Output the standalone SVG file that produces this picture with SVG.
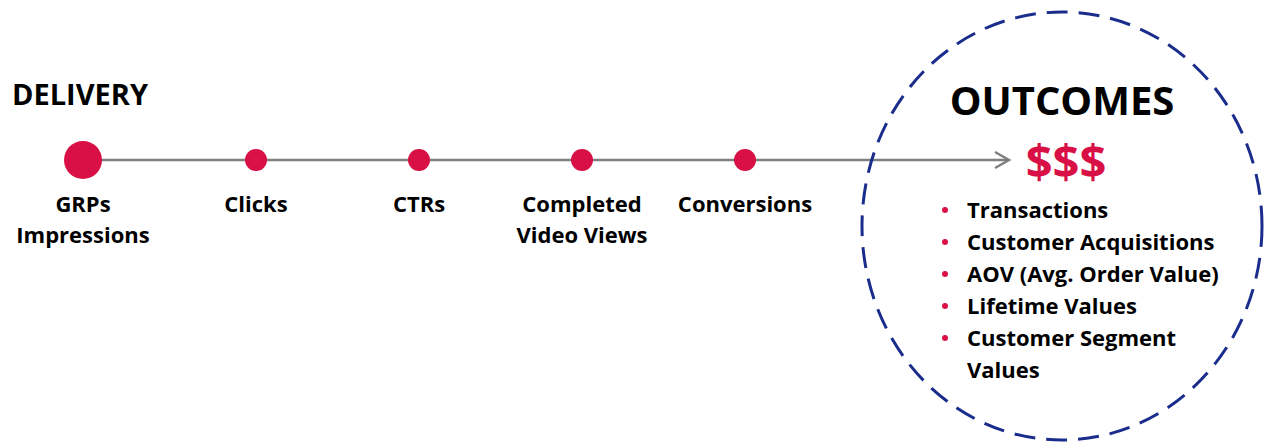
<svg xmlns="http://www.w3.org/2000/svg" width="1265" height="442" viewBox="0 0 1265 442">
<style>
text{font-family:"Open Sans","Liberation Sans",sans-serif;font-weight:bold;fill:#000}
.lbl{font-size:22px;text-anchor:middle}
.item{font-size:22px}
.dot{fill:#d81046}
.bul{fill:#d81046}
</style>
<rect width="1265" height="442" fill="#fff"/>
<g id="connectors">
<line x1="83" y1="160" x2="1008" y2="160" stroke="#7f7f7f" stroke-width="2.5"/>
<polyline points="995,152 1009,160 995,168" fill="none" stroke="#7f7f7f" stroke-width="2.5"/>
</g>
<g id="delivery-title"><text x="12" y="105" style="font-size:29px">DELIVERY</text></g>
<g id="node-grps"><circle class="dot" cx="83" cy="160" r="19"/><text class="lbl" x="83" y="212">GRPs</text><text class="lbl" x="83" y="243">Impressions</text></g>
<g id="node-clicks"><circle class="dot" cx="256" cy="160" r="11"/><text class="lbl" x="256" y="212">Clicks</text></g>
<g id="node-ctrs"><circle class="dot" cx="419" cy="160" r="11"/><text class="lbl" x="419" y="212">CTRs</text></g>
<g id="node-cvv"><circle class="dot" cx="582" cy="160" r="11"/><text class="lbl" x="582" y="212">Completed</text><text class="lbl" x="582" y="243">Video Views</text></g>
<g id="node-conv"><circle class="dot" cx="745" cy="160" r="11"/><text class="lbl" x="745" y="212">Conversions</text></g>
<g id="outcomes">
<ellipse cx="1062" cy="226" rx="200" ry="214" fill="none" stroke="#1a2d8c" stroke-width="3" stroke-dasharray="21 11"/>
<text x="1062" y="115" text-anchor="middle" style="font-size:40px">OUTCOMES</text>
<text x="1066" y="179" text-anchor="middle" style="font-size:47px;fill:#d81046">$$$</text>
<circle class="bul" cx="945" cy="210" r="3"/><text class="item" x="967" y="218">Transactions</text>
<circle class="bul" cx="945" cy="242" r="3"/><text class="item" x="967" y="250">Customer Acquisitions</text>
<circle class="bul" cx="945" cy="274" r="3"/><text class="item" x="967" y="282">AOV (Avg. Order Value)</text>
<circle class="bul" cx="945" cy="306" r="3"/><text class="item" x="967" y="314">Lifetime Values</text>
<circle class="bul" cx="945" cy="338" r="3"/><text class="item" x="967" y="346">Customer Segment</text>
<text class="item" x="967" y="378">Values</text>
</g>
</svg>
